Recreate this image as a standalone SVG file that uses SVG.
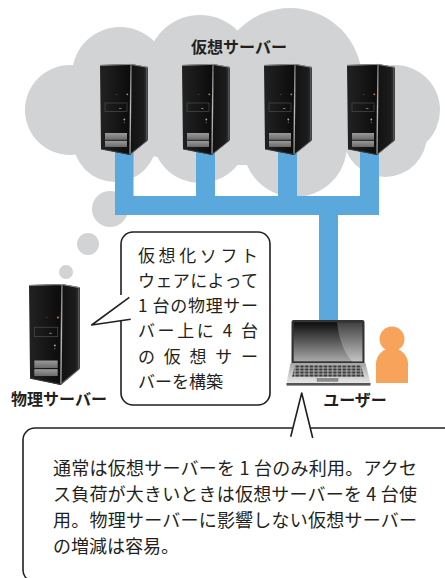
<svg xmlns="http://www.w3.org/2000/svg" xmlns:xlink="http://www.w3.org/1999/xlink" width="445" height="578" viewBox="0 0 445 578">
  <defs>
    <style>
      .cloud { fill: #d1d3d4; }
      .net { fill: #5ba8dc; }
      .outline { fill: none; stroke: #231f20; stroke-width: 1.6; stroke-linejoin: round; stroke-linecap: butt; }
      .label { font-family: "Noto Sans CJK JP", "Noto Sans", sans-serif; font-size: 16px; font-weight: bold; fill: #231f20; }
      .note { font-family: "Noto Sans CJK JP", "Noto Sans", sans-serif; font-size: 17px; fill: #231f20; }
      .note2 { font-family: "Noto Sans CJK JP", "Noto Sans", sans-serif; font-size: 18px; fill: #231f20; }
      .person { fill: #f7a35c; }
    </style>
    <linearGradient id="frontG" x1="0" y1="0" x2="1" y2="0">
      <stop offset="0" stop-color="#222"/>
      <stop offset="1" stop-color="#0b0b0b"/>
    </linearGradient>
    <linearGradient id="sideG" x1="0" y1="0" x2="1" y2="0">
      <stop offset="0" stop-color="#111"/>
      <stop offset="0.75" stop-color="#1c1c1c"/>
      <stop offset="1" stop-color="#3a3a3a"/>
    </linearGradient>
    <linearGradient id="edgeG" x1="0" y1="0" x2="0" y2="1">
      <stop offset="0" stop-color="#777"/>
      <stop offset="0.5" stop-color="#bbb"/>
      <stop offset="1" stop-color="#888"/>
    </linearGradient>
    <linearGradient id="bayG" x1="0" y1="0" x2="0" y2="1">
      <stop offset="0" stop-color="#9a9a9a"/>
      <stop offset="1" stop-color="#6a6a6a"/>
    </linearGradient>
    <linearGradient id="screenG" x1="0" y1="0" x2="0" y2="1">
      <stop offset="0" stop-color="#0d0d0d"/>
      <stop offset="1" stop-color="#a8a8a8"/>
    </linearGradient>
    <linearGradient id="reflG" x1="0" y1="0" x2="0" y2="1">
      <stop offset="0" stop-color="#4a4a4a"/>
      <stop offset="1" stop-color="#c8c8c8"/>
    </linearGradient>
    <linearGradient id="baseG" x1="0" y1="0" x2="0" y2="1">
      <stop offset="0" stop-color="#a5a5a5"/>
      <stop offset="1" stop-color="#e6e6e6"/>
    </linearGradient>
    <pattern id="keys" x="295" y="365" width="4.7" height="3" patternUnits="userSpaceOnUse">
      <rect x="0.4" y="0.4" width="3.8" height="2.2" fill="#3a3a3a"/>
    </pattern>

    <!-- tower PC case, drawn in a 48 x 92 box -->
    <symbol id="tower" viewBox="0 0 48 92" preserveAspectRatio="none" overflow="visible">
      <polygon points="31,0 48,3 48,76 30,91" fill="url(#sideG)"/>
      <polygon points="0,1 31,0 30,91 1,85" fill="url(#frontG)"/>
      <polyline points="0,1.4 31,0.4 48,3.4" fill="none" stroke="#8a8a8a" stroke-width="1"/>
      <line x1="31" y1="1" x2="30" y2="90" stroke="url(#edgeG)" stroke-width="1.4"/>
      <line x1="46.8" y1="4" x2="46.8" y2="76" stroke="#5a5a5a" stroke-width="1.2"/>
      <line x1="30.5" y1="90" x2="47.5" y2="76.5" stroke="#6a6a6a" stroke-width="1"/>
      <line x1="1" y1="85" x2="30" y2="90.5" stroke="#3a3a3a" stroke-width="1"/>
      <circle cx="16.7" cy="30.3" r="0.6" fill="#555"/>
      <circle cx="27.3" cy="30.3" r="0.9" fill="#d8892e"/>
      <rect x="5" y="39" width="22" height="8.5" fill="none" stroke="#4a4a4a" stroke-width="0.7"/>
      <rect x="19" y="44" width="2.5" height="1" fill="#777"/>
      <circle cx="24.3" cy="55.5" r="0.9" fill="#aaa"/>
      <circle cx="24.3" cy="58.3" r="0.6" fill="#777"/>
      <rect x="5" y="69" width="22" height="6.8" fill="url(#bayG)"/>
      <rect x="5" y="76.8" width="22" height="6.2" fill="url(#bayG)"/>
    </symbol>
  </defs>

  <rect width="445" height="578" fill="#ffffff"/>

  <!-- cloud of virtual servers -->
  <g id="cloud" class="cloud">
    <circle cx="70" cy="110" r="45"/>
    <circle cx="120" cy="75" r="48"/>
    <circle cx="200" cy="68" r="53"/>
    <circle cx="290" cy="80" r="72"/>
    <circle cx="395" cy="110" r="45"/>
    <circle cx="115" cy="140" r="42"/>
    <circle cx="200" cy="135" r="48"/>
    <circle cx="295" cy="145" r="52"/>
    <circle cx="385" cy="135" r="42"/>
    <ellipse cx="240" cy="110" rx="160" ry="55"/>
  </g>

  <!-- thought bubbles trailing down to the physical server -->
  <g id="thought" class="cloud">
    <circle cx="110" cy="209" r="18"/>
    <circle cx="88" cy="244" r="11"/>
    <circle cx="66" cy="272" r="7"/>
  </g>

  <!-- network wiring -->
  <g id="connectors" class="net">
    <rect x="115" y="150" width="18.5" height="65"/>
    <rect x="196" y="150" width="19" height="65"/>
    <rect x="278" y="150" width="19" height="65"/>
    <rect x="360" y="150" width="19" height="65"/>
    <rect x="115" y="196" width="264" height="19"/>
    <rect x="319" y="214" width="19" height="108"/>
  </g>

  <text id="cloud-label" class="label" x="239" y="53" text-anchor="middle">仮想サーバー</text>

  <g id="vserver1"><use href="#tower" xlink:href="#tower" x="100" y="64" width="48" height="92"/></g>
  <g id="vserver2"><use href="#tower" xlink:href="#tower" x="182" y="64" width="48" height="92"/></g>
  <g id="vserver3"><use href="#tower" xlink:href="#tower" x="264" y="64" width="48" height="92"/></g>
  <g id="vserver4"><use href="#tower" xlink:href="#tower" x="347" y="64" width="48" height="92"/></g>

  <!-- physical host -->
  <g id="physical-server">
    <use href="#tower" xlink:href="#tower" x="29" y="284" width="51" height="102"/>
    <text class="label" x="59" y="405" text-anchor="middle">物理サーバー</text>
  </g>

  <!-- callout: virtualization software -->
  <g id="callout-virtualization">
    <path class="outline" d="M121,295 V244 A12,12 0 0 1 133,232 H258 A12,12 0 0 1 270,244 V393 A12,12 0 0 1 258,405 H133 A12,12 0 0 1 121,393 V320"/>
    <path class="outline" d="M129.3,297.3 L91.7,325 L130.7,319.3"/>
    <text class="note" x="138" y="261.5" textLength="120" lengthAdjust="spacing">仮想化ソフト</text>
    <text class="note" x="138" y="286.5" textLength="120" lengthAdjust="spacing">ウェアによって</text>
    <text class="note" x="138" y="311.5" textLength="120" lengthAdjust="spacing">1 台の物理サー</text>
    <text class="note" x="138" y="337" textLength="120" lengthAdjust="spacing">バー上に 4 台</text>
    <text class="note" x="138" y="362.5" textLength="120" lengthAdjust="spacing">の仮想サー</text>
    <text class="note" x="138" y="388">バーを構築</text>
  </g>

  <!-- client laptop -->
  <g id="laptop">
    <path d="M291.5,363 V322 Q291.5,320 293.5,320 H362.5 Q364.5,320 364.5,322 V363 Z" fill="#333"/>
    <rect x="293.7" y="322.3" width="68.6" height="39" fill="url(#screenG)"/>
    <path d="M337,322.3 Q340,348 352,361.3 H362.3 V322.3 Z" fill="url(#reflG)" opacity="0.85"/>
    <path d="M290.5,363 H365.5 L370.5,383 H286.5 Z" fill="url(#baseG)"/>
    <path d="M295,365 H361 L364,377 H292 Z" fill="#c4c4c4"/>
    <path d="M295,365 H361 L364,377 H292 Z" fill="url(#keys)"/>
    <rect x="317" y="378.3" width="21" height="3" fill="#8c8c8c" stroke="#666" stroke-width="0.4"/>
    <rect x="286.5" y="383" width="84" height="2.6" fill="#555"/>
  </g>

  <!-- user -->
  <g id="user">
    <circle class="person" cx="392" cy="339" r="12.5"/>
    <path class="person" d="M376,383 V364 A16,16 0 0 1 408,364 V383 Z"/>
    <text class="label" x="355" y="406" text-anchor="middle">ユーザー</text>
  </g>

  <!-- callout: usage note -->
  <g id="callout-usage">
    <path class="outline" d="M292.7,428 H35 A12,12 0 0 0 23,440 V570 A12,12 0 0 0 35,582"/>
    <path class="outline" d="M310.7,428 H450"/>
    <path class="outline" d="M290.7,436.7 L301.7,393 L312.7,438"/>
    <text class="note2" x="53" y="475" textLength="364" lengthAdjust="spacing">通常は仮想サーバーを 1 台のみ利用。アクセ</text>
    <text class="note2" x="53" y="501" textLength="364" lengthAdjust="spacing">ス負荷が大きいときは仮想サーバーを 4 台使</text>
    <text class="note2" x="53" y="527" textLength="364" lengthAdjust="spacing">用。物理サーバーに影響しない仮想サーバー</text>
    <text class="note2" x="53" y="553">の増減は容易。</text>
  </g>
</svg>
